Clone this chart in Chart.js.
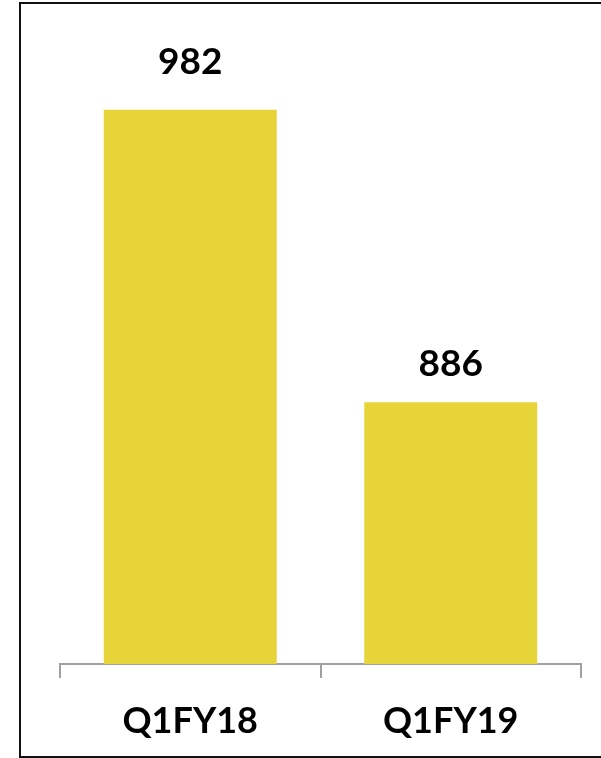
<!DOCTYPE html>
<html lang="en">
<head>
    <meta charset="UTF-8">
    <title>Q1 comparison</title>
    <script src="https://cdn.jsdelivr.net/npm/chart.js"></script>
    <style>
        html, body { margin: 0; padding: 0; background: #fff; overflow: hidden; }
        .frame {
            position: absolute;
            left: 19px; top: 2px;
            width: 620px; height: 752px;
            border: 2px solid #111;
        }
        .wrap { position: absolute; left: 0; top: 0; width: 601px; height: 758px; }
    </style>
</head>
<body>
    <div class="frame"></div>
    <div class="wrap"><canvas id="qChart" width="601" height="758"></canvas></div>

    <script>
        const quarters = ['Q1FY18', 'Q1FY19'];
        const values = [982, 886];

        const fontFamily = 'Lato, "Open Sans", sans-serif';

        // value labels above the bars
        const valueLabels = {
            id: 'valueLabels',
            afterDatasetsDraw(chart, args, opts) {
                const ctx = chart.ctx;
                const meta = chart.getDatasetMeta(0);
                ctx.save();
                ctx.fillStyle = '#000';
                ctx.font = 'bold 37px ' + fontFamily;
                ctx.textAlign = 'center';
                ctx.textBaseline = 'middle';
                meta.data.forEach((bar, i) => {
                    ctx.fillText(values[i], bar.x, bar.y - opts.offsets[i]);
                });
                ctx.restore();
            }
        };

        new Chart(document.getElementById('qChart'), {
            type: 'bar',
            data: {
                labels: quarters,
                datasets: [{
                    data: values,
                    backgroundColor: '#E6D438',
                    categoryPercentage: 1,
                    barPercentage: 0.664
                }]
            },
            options: {
                responsive: false,
                animation: false,
                layout: { padding: { left: 60, right: 20, top: 55, bottom: 0 } },
                plugins: {
                    legend: { display: false },
                    tooltip: { enabled: false },
                    valueLabels: { offsets: [48, 38] }
                },
                scales: {
                    x: {
                        afterFit(scale) { scale.height = 94; },
                        border: { color: '#A0A0A0', width: 2 },
                        grid: {
                            offset: true,
                            drawOnChartArea: false,
                            color: '#A0A0A0',
                            lineWidth: 2,
                            tickLength: 14
                        },
                        ticks: {
                            color: '#000',
                            padding: 22,
                            font: { family: fontFamily, size: 36, weight: 'bold' }
                        }
                    },
                    y: {
                        display: false,
                        min: 800,
                        max: 1000
                    }
                }
            },
            plugins: [valueLabels]
        });
    </script>
</body>
</html>
